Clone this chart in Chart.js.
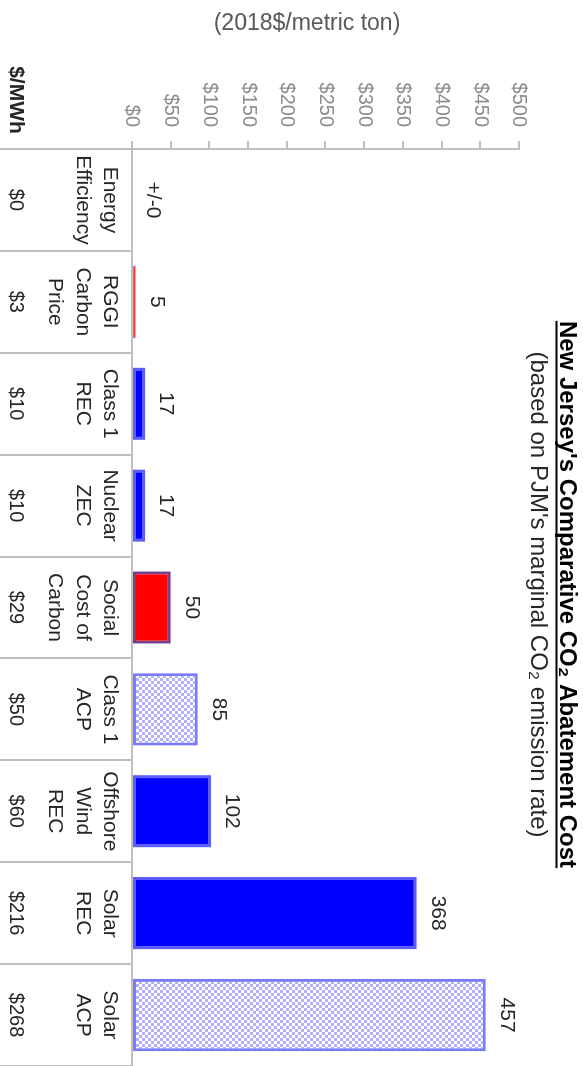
<!DOCTYPE html>
<html>
<head>
<meta charset="utf-8">
<script src="https://cdn.jsdelivr.net/npm/chart.js@4.4.1/dist/chart.umd.min.js"></script>
<style>
  html, body { margin: 0; padding: 0; background: #fff; }
  body { width: 583px; height: 1066px; overflow: hidden; position: relative; }
  /* chart is drawn upright, then turned a quarter clockwise like the reference */
  #wrap { position: absolute; left: 0; top: 0; width: 1066px; height: 583px;
          transform-origin: 0 0; transform: translate(583px, 0) rotate(90deg); }
</style>
</head>
<body>
<div id="wrap"><canvas id="abatementChart" width="1066" height="583"></canvas></div>
<script>
const categories = [
    ["Energy", "Efficiency"],
    ["RGGI", "Carbon", "Price"],
    ["Class 1", "REC"],
    ["Nuclear", "ZEC"],
    ["Social", "Cost of", "Carbon"],
    ["Class 1", "ACP"],
    ["Offshore", "Wind", "REC"],
    ["Solar", "REC"],
    ["Solar", "ACP"]
];
const costPerTon = [0, 5, 17, 17, 50, 85, 102, 368, 457];
const valueLabels = ["+/-0", "5", "17", "17", "50", "85", "102", "368", "457"];
const costPerMWh = ["$0", "$3", "$10", "$10", "$29", "$50", "$60", "$216", "$268"];
const barKind = ["none", "red", "blue", "blue", "scc", "acp", "blue", "blue", "acp"];

const chartTitle = "New Jersey's Comparative CO\u2082 Abatement Cost";
const chartSubtitle = "(based on PJM's marginal CO\u2082 emission rate)";
const yTitle = "(2018$/metric ton)";
const mwhHeader = "$/MWh";

const FONT = "'Liberation Sans', Arial, sans-serif";
const AXIS_GRAY = "#bfbfbf";

function checker(color) {
    const c = document.createElement("canvas");
    c.width = 6; c.height = 6;
    const g = c.getContext("2d");
    g.fillStyle = "#ffffff";
    g.fillRect(0, 0, 6, 6);
    g.fillStyle = color;
    g.fillRect(0, 0, 3, 3);
    g.fillRect(3, 3, 3, 3);
    return g.createPattern(c, "repeat");
}

const kindStyle = {
    none: { fill: "rgba(0,0,0,0)", border: "rgba(0,0,0,0)", width: 0 },
    red:  { fill: "#ff0000", border: "#f06a6a", width: 1 },
    blue: { fill: "#0000ff", border: "#5c5cff", width: 3 },
    scc:  { fill: "#ff0000", border: "#76408c", width: 3 },
    acp:  { fill: checker("#b0b0ff"), border: "#7a7aff", width: 3 }
};

// title, y-axis title, data labels, $/MWh row and column separators
const decorations = {
    id: "decorations",
    afterDraw(chart) {
        const ctx = chart.ctx;
        const area = chart.chartArea;
        const x = chart.scales.x;
        const step = (area.right - area.left) / categories.length;
        ctx.save();

        // separators under the category axis
        ctx.strokeStyle = AXIS_GRAY;
        ctx.lineWidth = 2;
        for (let i = 0; i <= categories.length; i++) {
            const px = Math.round(area.left + i * step);
            ctx.beginPath();
            ctx.moveTo(px, area.bottom);
            ctx.lineTo(px, chart.height);
            ctx.stroke();
        }

        // value labels above bars
        ctx.fillStyle = "#262626";
        ctx.font = "21px " + FONT;
        ctx.textAlign = "center";
        ctx.textBaseline = "alphabetic";
        chart.getDatasetMeta(0).data.forEach((bar, i) => {
            ctx.fillText(valueLabels[i], bar.x, bar.y - 15);
        });

        // $/MWh row
        ctx.font = "20px " + FONT;
        costPerMWh.forEach((t, i) => {
            ctx.fillText(t, x.getPixelForValue(i), 573);
        });
        ctx.font = "bold 21px " + FONT;
        ctx.fillText(mwhHeader, 100, 573);

        // chart title + underline
        const cx = (area.left + area.right) / 2 - 13;
        ctx.font = "bold 24px " + FONT;
        ctx.fillStyle = "#000000";
        ctx.fillText(chartTitle, cx, 23);
        const w = ctx.measureText(chartTitle).width;
        ctx.fillRect(cx - w / 2, 25.5, w, 2);

        ctx.font = "24px " + FONT;
        ctx.fillStyle = "#262626";
        ctx.fillText(chartSubtitle, cx, 52);

        // y-axis title
        ctx.translate(24, 276);
        ctx.rotate(-Math.PI / 2);
        ctx.font = "23px " + FONT;
        ctx.fillStyle = "#595959";
        ctx.textBaseline = "middle";
        ctx.fillText(yTitle, 0, 0);

        ctx.restore();
    }
};

const ctx = document.getElementById("abatementChart").getContext("2d");
new Chart(ctx, {
    type: "bar",
    data: {
        labels: categories,
        datasets: [{
            data: costPerTon,
            backgroundColor: barKind.map(k => kindStyle[k].fill),
            borderColor: barKind.map(k => kindStyle[k].border),
            borderWidth: barKind.map(k => kindStyle[k].width),
            borderSkipped: false,
            barPercentage: 0.71,
            categoryPercentage: 1
        }]
    },
    options: {
        responsive: false,
        animation: false,
        devicePixelRatio: 1,
        layout: { padding: { top: 64, right: 0, bottom: 0, left: 0 } },
        plugins: {
            legend: { display: false },
            tooltip: { enabled: false }
        },
        scales: {
            x: {
                grid: { display: false, drawTicks: false },
                border: { display: true, color: AXIS_GRAY, width: 2 },
                ticks: {
                    color: "#262626",
                    font: { family: FONT, size: 21, lineHeight: 1.31 },
                    padding: 8,
                    autoSkip: false,
                    minRotation: 0,
                    maxRotation: 0
                },
                afterFit: scale => { scale.height = 132; }
            },
            y: {
                min: 0,
                max: 500,
                ticks: {
                    stepSize: 50,
                    color: "#8c8c8c",
                    font: { family: FONT, size: 20 },
                    padding: 14,
                    callback: v => "$" + v
                },
                grid: { drawOnChartArea: false, color: AXIS_GRAY, lineWidth: 2, tickLength: 8 },
                border: { color: AXIS_GRAY, width: 2 },
                afterFit: scale => { scale.width = 149; }
            }
        }
    },
    plugins: [decorations]
});
</script>
</body>
</html>
